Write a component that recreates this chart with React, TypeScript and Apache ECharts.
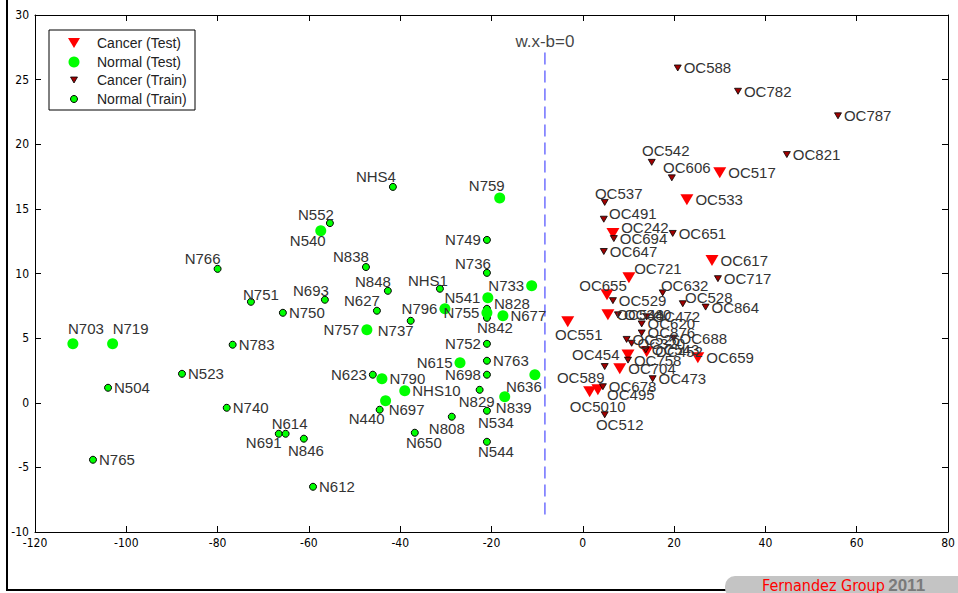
import React, { useEffect, useRef } from "react";
import * as echarts from "echarts";

// ---------- data ----------
const normalTestNames = ["N703","N719","N759","N540","N733","N541","N796","N755","N677","N757","N615","N790","NHS10","N697","N636","N839"];
const normalTestX = [-111.7,-103.0,-18.2,-57.4,-11.2,-20.8,-30.2,-21.0,-17.5,-47.3,-26.9,-44.0,-39.0,-43.2,-10.5,-17.1];
const normalTestY = [4.56,4.56,15.85,13.3,9.05,8.12,7.27,6.96,6.73,5.65,3.09,1.86,0.93,0.15,2.17,0.46];

const normalTrainNames = ["N766","N751","N783","N523","N504","N740","N691","N614","N846","N765","N612","NHS4","N552","N749","N838","N736","N848","NHS1","N693","N750","N627","N828","N737","N842","N752","N763","N623","N698","N829","N440","N534","N808","N650","N544"];
const normalTrainX = [-80.0,-72.7,-76.7,-87.8,-104.0,-78.0,-66.6,-65.1,-61.1,-107.3,-59.1,-41.6,-55.4,-21.0,-47.5,-21.0,-42.7,-31.3,-56.5,-65.7,-45.1,-21.0,-37.7,-21.0,-21.0,-21.0,-46.0,-21.0,-22.6,-44.5,-21.0,-28.7,-36.8,-21.0];
const normalTrainY = [10.36,7.81,4.49,2.24,1.16,-0.39,-2.4,-2.4,-2.78,-4.41,-6.5,16.7,13.9,12.6,10.5,10.05,8.66,8.82,7.97,6.96,7.12,7.27,6.34,6.57,4.56,3.25,2.17,2.17,1.0,-0.54,-0.62,-1.08,-2.32,-3.02];

const cancerTestNames = ["OC517","OC533","OC242","OC617","OC721","OC655","OC551","OC548","OC659","OC454","OC452","OC704","OC5010","OC495"];
const cancerTestX = [30.0,22.8,6.6,28.3,10.1,5.3,-3.3,5.5,25.2,9.9,14.0,8.1,1.5,3.3];
const cancerTestY = [17.8,15.7,13.1,11.0,9.67,8.35,6.26,6.8,3.48,3.7,3.94,2.63,0.85,1.0];

const cancerTrainNames = ["OC588","OC782","OC787","OC821","OC542","OC606","OC537","OC491","OC694","OC651","OC647","OC717","OC632","OC529","OC528","OC864","OC340","OC472","OC620","OC876","OC526","OC320","OC688","OC543","OC758","OC589","OC678","OC473","OC512"];
const cancerTrainX = [20.8,34.0,55.9,44.7,15.1,19.5,4.8,4.6,6.8,19.7,4.6,29.6,17.5,6.6,21.9,26.9,7.7,14.0,12.9,12.9,9.6,10.7,19.9,13.8,9.9,4.8,4.4,15.3,4.8];
const cancerTrainY = [25.9,24.1,22.2,19.2,18.6,17.4,15.5,14.2,12.7,13.1,11.7,9.6,8.5,7.9,7.66,7.4,6.8,6.65,6.1,5.4,4.9,4.6,5.0,4.1,3.3,2.8,1.24,1.86,-0.93];

const boundaryX = [-8.3, -8.3];
const boundaryY = [27.1, -8.7];
const boundaryLabel = "w.x-b=0";

const legendNames = ["Cancer (Test)", "Normal (Test)", "Cancer (Train)", "Normal (Train)"];

// label placement (styling), default: right of marker
const LABEL_POS: Record<string, any> = {
  N703: [13, -15], N719: [18, -15], N759: [-13, -12], N540: [-13, 10],
  N733: "L", N541: "L", N796: "L", N755: "L", N757: "L", N615: "L",
  N697: [21, 9], N636: [-11, 12], N839: [9, 11],
  N766: [-15, -10], N751: [10, -7], N691: [-15, 9], N614: [4, -10], N846: [2, 12],
  NHS4: [-17, -10], N552: [-14, -9], N749: "L", N838: [-15, -11], N736: [-14, -9],
  N848: [-15, -9], NHS1: [-12, -8], N693: [-14, -9], N627: [-15, -10], N828: [25, -5],
  N737: [-15, 10], N842: [8, 10], N752: "L", N623: "L", N698: "L", N829: [-3, 12],
  N440: [-13, 9], N534: [9, 12], N808: [-5, 12], N650: [9, 10], N544: [9, 10],
  OC242: [32, -6], OC721: [29, -9], OC655: [-4, -9], OC551: [11, 13], OC454: "L",
  OC5010: [8, 15], OC495: [33, 5],
  OC542: [14, -12], OC606: [15, -10], OC537: [14, -9], OC491: [29, -6],
  OC632: [22, -7], OC528: [26, -6], OC589: [-24, 11], OC512: [15, 10],
};

function labelFor(name: string) {
  const p = LABEL_POS[name] ?? "R";
  if (p === "R") return { position: "right", distance: 2 };
  if (p === "L") return { position: "left", distance: 2 };
  return { position: "inside", offset: p, align: "center", verticalAlign: "middle" };
}

function build(names: string[], xs: number[], ys: number[]) {
  return names.map((n, i) => ({ name: n, value: [xs[i], ys[i]], label: labelFor(n) }));
}

const TRI_DOWN = "path://M0,0 L12,0 L6,10 Z";
const FONT = "'Liberation Sans', Arial, sans-serif";
const NARROW = "'Liberation Sans Narrow', 'DejaVu Sans Condensed', Arial, sans-serif";

const labelStyle = {
  show: true,
  formatter: "{b}",
  fontSize: 15,
  color: "#333",
  fontFamily: FONT,
};

export default function App() {
  const ref = useRef<HTMLDivElement>(null);
  useEffect(() => {
    if (!ref.current) return;
    const chart = echarts.init(ref.current, null, { renderer: "svg" });
    const axisCommon = {
      type: "value",
      axisLine: { show: true, onZero: false, lineStyle: { color: "#000", width: 1 } },
      axisTick: { show: true, inside: true, length: 6, lineStyle: { color: "#000" } },
      splitLine: { show: false },
    };
    const tickFont = { fontSize: 12, color: "#000", fontFamily: NARROW };
    const lx = 74;
    const ly = [43, 62, 80, 99];
    chart.setOption({
      animation: false,
      grid: { left: 35, top: 15, width: 913, height: 517, containLabel: false },
      xAxis: [
        { ...axisCommon, min: -120, max: 80, interval: 20, position: "bottom",
          axisLabel: { ...tickFont, margin: 5 } },
        { ...axisCommon, min: -120, max: 80, interval: 20, position: "top",
          axisLabel: { show: false } },
      ],
      yAxis: [
        { ...axisCommon, min: -10, max: 30, interval: 5, position: "left",
          axisLabel: { ...tickFont, margin: 6 } },
        { ...axisCommon, min: -10, max: 30, interval: 5, position: "right",
          axisLabel: { show: false } },
      ],
      series: [
        {
          type: "line",
          data: boundaryX.map((x, i) => [x, boundaryY[i]]),
          showSymbol: false,
          symbol: "none",
          lineStyle: { color: "#6f6fff", width: 1.5, type: [12, 6] },
          silent: true,
          z: 1,
        },
        {
          type: "scatter",
          data: [{ name: boundaryLabel, value: [boundaryX[0], boundaryY[0]] }],
          symbolSize: 1,
          itemStyle: { color: "rgba(0,0,0,0)" },
          label: { show: true, formatter: "{b}", position: "top", distance: 2, fontSize: 17, color: "#111", fontFamily: FONT },
          silent: true,
        },
        {
          name: legendNames[3],
          type: "scatter",
          data: build(normalTrainNames, normalTrainX, normalTrainY),
          symbol: "circle",
          symbolSize: 7,
          itemStyle: { color: "#00ff00", borderColor: "#000", borderWidth: 1, opacity: 1 },
          label: labelStyle,
          silent: true,
        },
        {
          name: legendNames[1],
          type: "scatter",
          data: build(normalTestNames, normalTestX, normalTestY),
          symbol: "circle",
          symbolSize: 11,
          itemStyle: { color: "#00ff00", opacity: 1 },
          label: labelStyle,
          silent: true,
        },
        {
          name: legendNames[0],
          type: "scatter",
          data: build(cancerTestNames, cancerTestX, cancerTestY),
          symbol: TRI_DOWN,
          symbolSize: [13, 11],
          itemStyle: { color: "#ff0000", opacity: 1 },
          label: labelStyle,
          silent: true,
        },
        {
          name: legendNames[2],
          type: "scatter",
          data: build(cancerTrainNames, cancerTrainX, cancerTrainY),
          symbol: TRI_DOWN,
          symbolSize: [7, 6],
          itemStyle: { color: "#a00000", borderColor: "#000", borderWidth: 0.8, opacity: 1 },
          label: labelStyle,
          silent: true,
        },
      ],
      graphic: [
        { type: "line", shape: { x1: 7, y1: 0, x2: 7, y2: 591 }, style: { stroke: "#000", lineWidth: 2 } },
        { type: "line", shape: { x1: 7, y1: 590, x2: 958, y2: 590 }, style: { stroke: "#000", lineWidth: 2 } },
        { type: "rect", shape: { x: 49, y: 30, width: 146, height: 80 }, style: { fill: "#fff", stroke: "#000", lineWidth: 1 }, z: 10 },
        { type: "polygon", shape: { points: [[lx - 6, ly[0] - 5], [lx + 6, ly[0] - 5], [lx, ly[0] + 5]] }, style: { fill: "#ff0000" }, z: 11 },
        { type: "circle", shape: { cx: lx, cy: ly[1], r: 5.5 }, style: { fill: "#00ff00" }, z: 11 },
        { type: "polygon", shape: { points: [[lx - 3.5, ly[2] - 3], [lx + 3.5, ly[2] - 3], [lx, ly[2] + 3]] }, style: { fill: "#a00000", stroke: "#000", lineWidth: 0.8 }, z: 11 },
        { type: "circle", shape: { cx: lx, cy: ly[3], r: 3.5 }, style: { fill: "#00ff00", stroke: "#000", lineWidth: 1 }, z: 11 },
        ...legendNames.map((n, i) => ({
          type: "text", x: 97, y: ly[i], z: 11,
          style: { text: n, fill: "#222", font: `14px ${FONT}`, textVerticalAlign: "middle", verticalAlign: "middle" },
        })),
        { type: "rect", shape: { x: 725, y: 576, width: 250, height: 22, r: 10 }, style: { fill: "#c4c4c4" }, z: 10 },
        {
          type: "text", x: 762, y: 585, z: 11,
          style: {
            text: "{a|Fernandez Group} {b|2011}",
            verticalAlign: "middle",
            rich: {
              a: { fill: "#ff0000", fontSize: 16, fontFamily: NARROW },
              b: { fill: "#7a7a7a", fontSize: 17, fontWeight: "bold", fontFamily: FONT },
            },
          },
        },
      ],
    });
    return () => chart.dispose();
  }, []);
  return <div ref={ref} style={{ width: 958, height: 593, position: "absolute", left: 0, top: 0, background: "#fff" }} />;
}
